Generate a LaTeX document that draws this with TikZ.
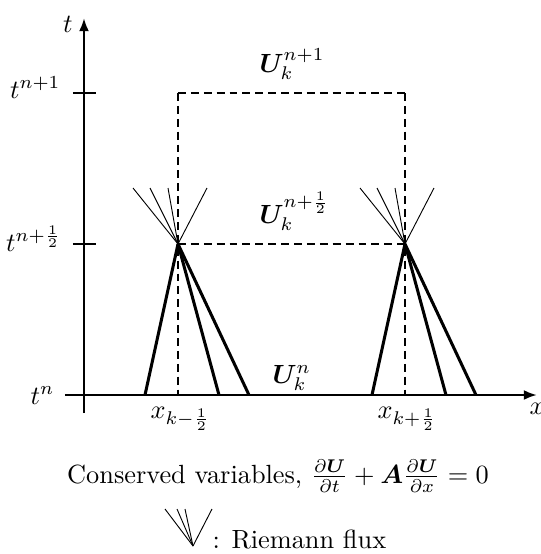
\documentclass[tikz,border=0pt]{standalone}
\usepackage{amsmath,bm}
\usetikzlibrary{arrows.meta,calc}
\begin{document}
\begin{tikzpicture}[x=0.38pt,y=-0.38pt,
  axis/.style={line width=0.95pt},
  guide/.style={line width=0.4pt,dash pattern=on 3pt off 1.9pt},
  wave/.style={line width=1.15pt},
  fanline/.style={line width=0.35pt},
  tick/.style={line width=0.4pt},
  lbl/.style={inner sep=0pt}]
\useasboundingbox (0,0) rectangle (540,554);
% axes
\coordinate (xs) at (65,395);
\coordinate (xe) at (537,395);
\coordinate (ts) at (84,413);
\coordinate (te) at (84,18);
\draw[axis,-{Latex[length=5pt,width=3.8pt]}] (xs) -- (xe);
\draw[axis,-{Latex[length=5pt,width=3.8pt]}] (ts) -- (te);
\node[lbl] (tlab) at (68,24) {$t$};
\node[lbl,anchor=base west] (xlab) at (529,414) {$x$};
% ticks
\coordinate (k1a) at (73,93);  \coordinate (k1b) at (96,93);
\coordinate (k2a) at (73,244); \coordinate (k2b) at (96,244);
\draw[tick] (k1a) -- (k1b);
\draw[tick] (k2a) -- (k2b);
\node[lbl,anchor=base east] (tn1) at (61,98) {$t^{n+1}$};
\node[lbl,anchor=base east] (tnh) at (62,251) {$t^{n+\frac{1}{2}}$};
\node[lbl,anchor=base east] (tn) at (55,404) {$t^{n}$};
% interfaces
\coordinate (L) at (178,244);
\coordinate (R) at (405,244);
\coordinate (Ltop) at (178,93);
\coordinate (Rtop) at (405,93);
\coordinate (Lbot) at (178,395);
\coordinate (Rbot) at (405,395);
\draw[guide] (Ltop) -- (Rtop);
\draw[guide] (Ltop) -- (Lbot);
\draw[guide] (Rtop) -- (Rbot);
\draw[guide] (L) -- (R);
% waves (thick)
\foreach \dx in {-33,41,71}{
  \draw[wave] (L) -- ($(L)+(\dx,151)$);
  \draw[wave] (R) -- ($(R)+(\dx,151)$);
}
% Riemann fans (thin)
\foreach \dx in {-45,-28,-10,29}{
  \draw[fanline] (L) -- ($(L)+(\dx,-56)$);
  \draw[fanline] (R) -- ($(R)+(\dx,-56)$);
}
% labels
\node[lbl,anchor=base west] (Un1) at (259,72) {$\bm{U}_k^{n+1}$};
\node[lbl,anchor=base west] (Unh) at (259,223) {$\bm{U}_k^{n+\frac{1}{2}}$};
\node[lbl,anchor=base west] (Un) at (272,383) {$\bm{U}_k^{n}$};
\node[lbl,anchor=base west] (xl) at (150,418) {$x_{k-\frac{1}{2}}$};
\node[lbl,anchor=base west] (xr) at (377,418) {$x_{k+\frac{1}{2}}$};
% caption
\node[lbl,anchor=base] (cap) at (278,483) {Conserved variables, $\frac{\partial \bm{U}}{\partial t} + \bm{A}\frac{\partial \bm{U}}{\partial x} = 0$};
% legend
\coordinate (G) at (193,546);
\foreach \gx in {165,177,185,212}{
  \draw[fanline] (G) -- (\gx,509);
}
\node[lbl,anchor=base west] (leg) at (212,548) {: Riemann flux};
\end{tikzpicture}
\end{document}
